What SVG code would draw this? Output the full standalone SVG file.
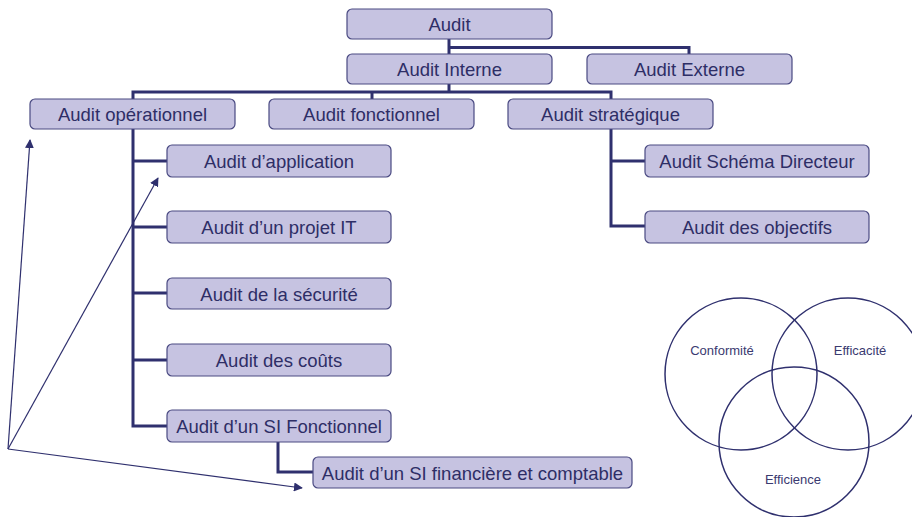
<svg xmlns="http://www.w3.org/2000/svg" width="912" height="517" viewBox="0 0 912 517">
<defs>
<style>
.box{fill:#c6c3e1;stroke:#4a4a82;stroke-width:1.2}
.lbl{font-family:"Liberation Sans",Arial,sans-serif;font-size:18.5px;fill:#2e2e66;text-anchor:middle}
.con{fill:none;stroke:#2f306e;stroke-width:3}
.arr{fill:none;stroke:#2f306e;stroke-width:1.2}
.circ{fill:none;stroke:#2f306e;stroke-width:1.5}
.vl{font-family:"Liberation Sans",Arial,sans-serif;font-size:13px;fill:#3a3a70;text-anchor:middle}
</style>
<marker id="ah" viewBox="0 0 10 10" refX="9" refY="5" markerWidth="9" markerHeight="9" markerUnits="userSpaceOnUse" orient="auto">
<path d="M0,0 L10,5 L0,10 Z" fill="#2f306e"/>
</marker>
</defs>
<rect width="912" height="517" fill="#ffffff"/>
<g id="connectors">
<path class="con" d="M449,39 V84"/>
<path class="con" d="M449,47.5 H689 V54"/>
<path class="con" d="M449,84 V92"/>
<path class="con" d="M133,99 V92 H611 V99"/>
<path class="con" d="M372,92 V99"/>
<path class="con" d="M133,129 V426 H167"/>
<path class="con" d="M133,161 H167 M133,227 H167 M133,293 H167 M133,360 H167"/>
<path class="con" d="M611,129 V226 H645 M611,161 H645"/>
<path class="con" d="M278,442 V472 H313"/>
<path class="arr" marker-end="url(#ah)" d="M8,449 L30,140"/>
<path class="arr" marker-end="url(#ah)" d="M8,449 L158,178"/>
<path class="arr" marker-end="url(#ah)" d="M8,449 L302,488"/>
</g>
<g id="n-audit"><rect class="box" x="347" y="9" width="205" height="30" rx="5"/><text class="lbl" x="449.5" y="30.5">Audit</text></g>
<g id="n-interne"><rect class="box" x="347" y="54" width="205" height="30" rx="5"/><text class="lbl" x="449.5" y="75.5">Audit Interne</text></g>
<g id="n-externe"><rect class="box" x="587" y="54" width="205" height="30" rx="5"/><text class="lbl" x="689.5" y="75.5">Audit Externe</text></g>
<g id="n-oper"><rect class="box" x="30" y="99" width="205" height="30" rx="5"/><text class="lbl" x="132.5" y="120.5">Audit opérationnel</text></g>
<g id="n-fonc"><rect class="box" x="269" y="99" width="205" height="30" rx="5"/><text class="lbl" x="371.5" y="120.5">Audit fonctionnel</text></g>
<g id="n-strat"><rect class="box" x="508" y="99" width="205" height="30" rx="5"/><text class="lbl" x="610.5" y="120.5">Audit stratégique</text></g>
<g id="n-app"><rect class="box" x="167" y="145" width="224" height="32" rx="5"/><text class="lbl" x="279" y="167.5">Audit d’application</text></g>
<g id="n-projet"><rect class="box" x="167" y="211" width="224" height="32" rx="5"/><text class="lbl" x="279" y="233.5">Audit d’un projet IT</text></g>
<g id="n-secu"><rect class="box" x="167" y="278" width="224" height="31" rx="5"/><text class="lbl" x="279" y="300.5">Audit de la sécurité</text></g>
<g id="n-couts"><rect class="box" x="167" y="344" width="224" height="32" rx="5"/><text class="lbl" x="279" y="366.5">Audit des coûts</text></g>
<g id="n-sif"><rect class="box" x="167" y="410" width="224" height="32" rx="5"/><text class="lbl" x="279" y="432.5">Audit d’un SI Fonctionnel</text></g>
<g id="n-sifin"><rect class="box" x="313" y="457" width="319" height="31" rx="5"/><text class="lbl" x="472.5" y="479.5">Audit d’un SI financière et comptable</text></g>
<g id="n-sd"><rect class="box" x="645" y="145" width="224" height="32" rx="5"/><text class="lbl" x="757" y="167.5">Audit Schéma Directeur</text></g>
<g id="n-obj"><rect class="box" x="645" y="211" width="224" height="32" rx="5"/><text class="lbl" x="757" y="233.5">Audit des objectifs</text></g>
<g id="venn">
<circle class="circ" cx="741" cy="374" r="76"/>
<circle class="circ" cx="848" cy="374" r="76"/>
<circle class="circ" cx="794" cy="442" r="75"/>
<text class="vl" x="722" y="355">Conformité</text>
<text class="vl" x="860" y="355">Efficacité</text>
<text class="vl" x="793" y="484">Efficience</text>
</g>
</svg>
